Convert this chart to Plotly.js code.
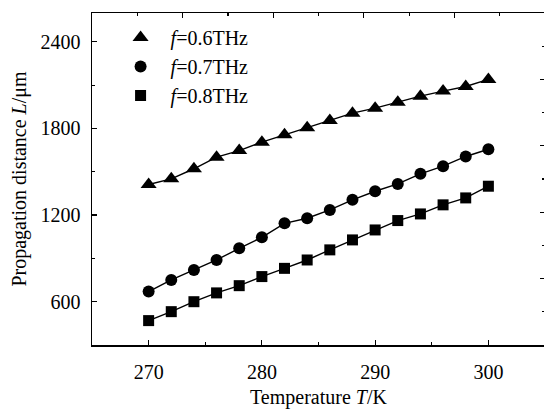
<!DOCTYPE html>
<html>
<head>
<meta charset="utf-8">
<script src="https://cdn.plot.ly/plotly-3.0.1.min.js"></script>
<style>
  html, body { margin: 0; padding: 0; overflow: hidden; background: #fff; }
  #chart { width: 545px; height: 409px; }
</style>
</head>
<body>
<div id="chart"></div>
<script>
// Temperature (K)
const temperature = [270, 272, 274, 276, 278, 280, 282, 284, 286, 288, 290, 292, 294, 296, 298, 300];
// Propagation distance L (µm)
const f06 = [1412, 1451, 1521, 1601, 1647, 1705, 1756, 1805, 1855, 1906, 1941, 1982, 2024, 2059, 2091, 2140];
const f07 = [670, 751, 820, 889, 970, 1046, 1143, 1178, 1236, 1306, 1365, 1416, 1486, 1539, 1606, 1656];
const f08 = [469, 531, 600, 661, 711, 774, 831, 889, 959, 1028, 1097, 1162, 1208, 1271, 1319, 1400];
const seriesNames = ['<i>f</i>=0.6THz', '<i>f</i>=0.7THz', '<i>f</i>=0.8THz'];
const xTicks = [270, 280, 290, 300];
const yTicks = [600, 1200, 1800, 2400];

const FONT = '"Liberation Serif", "Times New Roman", Times, serif';

function lineTrace(y) {
  return {
    x: temperature, y: y, type: 'scatter', mode: 'lines',
    line: {color: '#000', width: 1.4}, showlegend: false, hoverinfo: 'skip'
  };
}
function markerTrace(y, name, symbol, size) {
  return {
    x: temperature, y: y, name: name, type: 'scatter', mode: 'markers',
    marker: {symbol: symbol, size: size, color: '#000'},
    hoverinfo: 'x+y'
  };
}

const traces = [
  lineTrace(f06), lineTrace(f07), lineTrace(f08),
  markerTrace(f06, seriesNames[0], 'triangle-up', 14),
  markerTrace(f07, seriesNames[1], 'circle', 12),
  markerTrace(f08, seriesNames[2], 'square', 11),
  {x: [null], y: [null], xaxis: 'x2', yaxis: 'y2', type: 'scatter', mode: 'markers',
   showlegend: false, hoverinfo: 'skip'}
];

const layout = {
  width: 545, height: 409,
  margin: {l: 92, r: 0, t: 13, b: 64, pad: 0},
  paper_bgcolor: '#fff', plot_bgcolor: '#fff',
  font: {family: FONT, size: 20, color: '#000'},
  showlegend: true,
  legend: {
    x: 0.041, y: 0.985, xanchor: 'left', yanchor: 'top',
    bgcolor: 'rgba(0,0,0,0)', borderwidth: 0,
    font: {family: FONT, size: 20, color: '#000'},
    tracegroupgap: 0, itemwidth: 50
  },
  xaxis: {
    range: [265, 305], tickmode: 'array', tickvals: xTicks,
    ticks: 'inside', ticklen: 5, tickwidth: 1.2, tickcolor: '#000',
    minor: {dtick: 5, tick0: 270, ticks: 'inside', ticklen: 3, tickwidth: 1.2, tickcolor: '#000', showgrid: false},
    showline: true, linecolor: '#000', linewidth: 1.5, mirror: true,
    showgrid: false, zeroline: false,
    ticklabelstandoff: 8,
    tickfont: {family: FONT, size: 20, color: '#000'},
    title: {text: 'Temperature <i>T</i>/K', font: {family: FONT, size: 20, color: '#000'}, standoff: 9}
  },
  yaxis: {
    range: [300, 2600], tickmode: 'array', tickvals: yTicks,
    ticks: 'inside', ticklen: 5, tickwidth: 1.2, tickcolor: '#000',
    minor: {dtick: 300, tick0: 0, ticks: 'inside', ticklen: 3, tickwidth: 1.2, tickcolor: '#000', showgrid: false},
    showline: true, linecolor: '#000', linewidth: 1.5, mirror: true,
    showgrid: false, zeroline: false,
    ticklabelstandoff: 6,
    tickfont: {family: FONT, size: 20, color: '#000'},
    title: {text: 'Propagation distance <i>L</i>/μm', font: {family: FONT, size: 20, color: '#000'}, standoff: 8}
  },
  xaxis2: {
    overlaying: 'x', side: 'top', range: [0, 10], dtick: 2, tick0: 0,
    ticks: 'inside', ticklen: 5, tickwidth: 1.2, tickcolor: '#000',
    minor: {dtick: 1, ticks: 'inside', ticklen: 3, tickwidth: 1.2, tickcolor: '#000', showgrid: false},
    showticklabels: false, showgrid: false, zeroline: false, showline: false
  },
  yaxis2: {
    overlaying: 'y', side: 'right', range: [0, 10], dtick: 2, tick0: 0,
    ticks: 'inside', ticklen: 5, tickwidth: 1.2, tickcolor: '#000',
    minor: {dtick: 1, ticks: 'inside', ticklen: 3, tickwidth: 1.2, tickcolor: '#000', showgrid: false},
    showticklabels: false, showgrid: false, zeroline: false, showline: false
  }
};

Plotly.newPlot('chart', traces, layout, {staticPlot: true, displayModeBar: false});
</script>
</body>
</html>
